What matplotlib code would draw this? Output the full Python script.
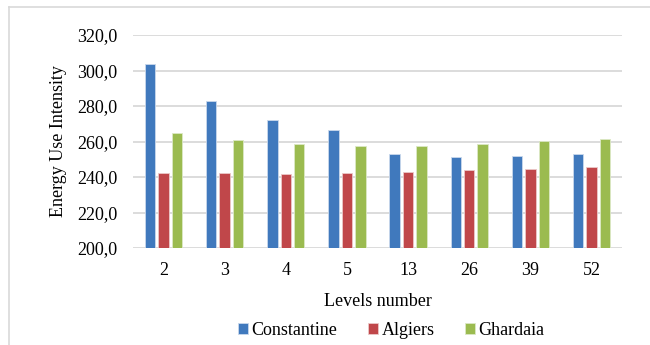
import numpy as np
import matplotlib.pyplot as plt
from matplotlib.lines import Line2D
from matplotlib.ticker import FuncFormatter

plt.rcParams['font.family'] = ['Liberation Serif', 'DejaVu Serif']

levels = ['2', '3', '4', '5', '13', '26', '39', '52']
constantine = [303.6, 282.8, 272.2, 266.2, 252.8, 251.0, 251.8, 252.9]
algiers = [242.4, 242.0, 241.6, 242.0, 243.0, 243.9, 244.7, 245.6]
ghardaia = [264.6, 260.8, 258.8, 257.6, 257.4, 258.8, 260.3, 261.6]

fig = plt.figure(figsize=(6.5, 3.45), dpi=100)
ax = fig.add_axes([133 / 650, 1 - 248 / 345, 489 / 650, 213 / 345])

x = np.arange(len(levels))
w = 0.17
step = 0.22
ax.bar(x - step, constantine, w, color='#4079BD', edgecolor='#C9D8EC', linewidth=0.6, label='Constantine', zorder=3)
ax.bar(x, algiers, w, color='#C0474A', edgecolor='#EBC9C9', linewidth=0.6, label='Algiers', zorder=3)
ax.bar(x + step, ghardaia, w, color='#9BBB50', edgecolor='#DCE8C6', linewidth=0.6, label='Ghardaia', zorder=3)

ax.set_ylim(200, 320)
ax.set_xlim(-0.5, 7.5)
ax.set_yticks(range(200, 321, 20))
ax.yaxis.set_major_formatter(FuncFormatter(lambda v, p: f'{v:.1f}'.replace('.', ',')))
ax.set_xticks(x)
ax.set_xticklabels(levels)
ax.grid(axis='y', color='#D9D9D9', linewidth=1.3, zorder=0)
for s in ax.spines.values():
    s.set_visible(False)
ax.tick_params(length=0, labelsize=13, colors='black')
ax.tick_params(axis='y', pad=11.5)
ax.tick_params(axis='x', pad=10)

ax.set_xlabel('Levels number', fontsize=13, labelpad=10)
ax.set_ylabel('Energy Use Intensity', fontsize=13, labelpad=7)

ax.legend(loc='upper center', bbox_to_anchor=(0.528, -0.27), ncol=3, frameon=False,
          fontsize=13, handlelength=0.55, handleheight=0.55, handletextpad=0.2,
          columnspacing=1.7)

# chart frame (only top and left edges visible in the crop)
fig.add_artist(Line2D([8.5 / 650, 1], [1 - 6.5 / 345, 1 - 6.5 / 345], color='#D9D9D9', linewidth=1.2))
fig.add_artist(Line2D([8.5 / 650, 8.5 / 650], [0, 1 - 6.5 / 345], color='#D9D9D9', linewidth=1.2))

fig.savefig('out.png', dpi=100)
